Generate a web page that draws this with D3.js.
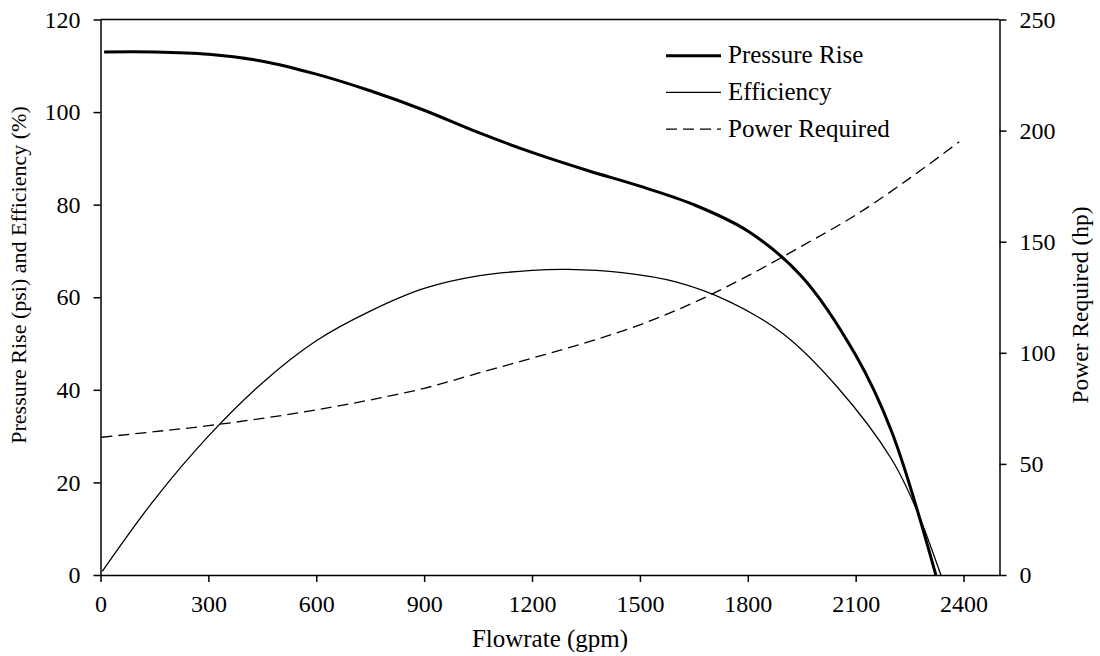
<!DOCTYPE html>
<head>
  <meta charset="utf-8">
  <script src="https://d3js.org/d3.v7.min.js"></script>
  <style>
    body { margin:0; background:#fff; }
    svg text { font-family: "Liberation Serif", "DejaVu Serif", "Times New Roman", Times, serif; fill:#000; }
    .axis path, .axis line { stroke:#000; stroke-width:1.5; }
    .axis text { font-size:24px; }
  </style>
</head>
<body>
<script>

/* Data */
/* ==== */

var seriesNames = ["Pressure Rise", "Efficiency", "Power Required"];

// flowrate (gpm) -> pressure rise (psi)
var pressureFlow = [10, 150, 300, 450, 600, 750, 900, 1050, 1200, 1350, 1500, 1650, 1800, 1950, 2100, 2200, 2323];
var pressureVals = [113.0, 113.0, 112.5, 111.0, 108.2, 104.6, 100.4, 95.6, 91.3, 87.5, 84.0, 80.0, 74.3, 64.5, 47.5, 31.0, 0];

// flowrate (gpm) -> efficiency (%)
var effFlow = [5, 150, 300, 450, 600, 750, 900, 1050, 1200, 1300, 1450, 1600, 1750, 1900, 2050, 2200, 2270, 2337];
var effVals = [0.8, 16.3, 30.0, 41.5, 50.6, 57.0, 61.9, 64.6, 65.8, 66.0, 65.3, 63.3, 59.0, 52.0, 40.5, 25.0, 14.0, 0];

// flowrate (gpm) -> power required (hp)
var powerFlow = [3, 150, 300, 450, 600, 750, 900, 1050, 1200, 1350, 1500, 1650, 1800, 1950, 2100, 2250, 2388];
var powerVals = [62.0, 64.5, 67.2, 70.5, 74.3, 78.8, 84.0, 90.8, 97.6, 104.6, 112.6, 122.6, 134.6, 148.0, 162.0, 178.5, 195.0];

var xTicks = [0, 300, 600, 900, 1200, 1500, 1800, 2100, 2400];
var yLeftTicks = [0, 20, 40, 60, 80, 100, 120];
var yRightTicks = [0, 50, 100, 150, 200, 250];


/* Set up */
/* ====== */

var width = 1100,
    height = 656,
    margin = { top: 19.5, right: 100.5, bottom: 81, left: 100.5 };

var svg = d3.select('body')
  .append('svg')
    .attr('width', width)
    .attr('height', height)
    .attr('font-family', '"Liberation Serif", "DejaVu Serif", serif');

var x = d3.scaleLinear()
    .domain([0, 2500])
    .range([margin.left, width - margin.right]);

var yLeft = d3.scaleLinear()
    .domain([0, 120])
    .range([height - margin.bottom, margin.top]);

var yRight = d3.scaleLinear()
    .domain([0, 250])
    .range([height - margin.bottom, margin.top]);

function zip(a, b) {
  return a.map(function(d, i) { return [d, b[i]]; });
}


// frame top line
svg.append('line')
    .attr('x1', x(0)).attr('x2', x(2500))
    .attr('y1', yLeft(120)).attr('y2', yLeft(120))
    .attr('stroke', '#000')
    .attr('stroke-width', 1.5);


// Axes

var fmt = d3.format('d');

svg.append('g')
    .attr('class', 'axis')
    .attr('transform', 'translate(0,' + yLeft(0) + ')')
    .call(d3.axisBottom(x).tickValues(xTicks).tickFormat(fmt).tickSize(7).tickPadding(13).tickSizeOuter(0));

svg.append('g')
    .attr('class', 'axis')
    .attr('transform', 'translate(' + x(0) + ',0)')
    .call(d3.axisLeft(yLeft).tickValues(yLeftTicks).tickFormat(fmt).tickSize(7).tickPadding(13).tickSizeOuter(0));

svg.append('g')
    .attr('class', 'axis')
    .attr('transform', 'translate(' + x(2500) + ',0)')
    .call(d3.axisRight(yRight).tickValues(yRightTicks).tickFormat(fmt).tickSize(7).tickPadding(13).tickSizeOuter(0));

svg.selectAll('.axis .domain').attr('stroke-width', 2);
svg.selectAll('.axis text').attr('font-family', null);


// Axis titles

svg.append('text')
    .attr('x', (x(0) + x(2500)) / 2)
    .attr('y', 647)
    .attr('text-anchor', 'middle')
    .style('font-size', '25px')
    .text('Flowrate (gpm)');

svg.append('text')
    .attr('transform', 'translate(26,275) rotate(-90)')
    .attr('text-anchor', 'middle')
    .style('font-size', '22px')
    .text('Pressure Rise (psi) and Efficiency (%)');

svg.append('text')
    .attr('transform', 'translate(1088,305) rotate(-90)')
    .attr('text-anchor', 'middle')
    .style('font-size', '23.5px')
    .text('Power Required (hp)');


// Curves

var lineLeft = d3.line()
    .x(function(d) { return x(d[0]); })
    .y(function(d) { return yLeft(d[1]); })
    .curve(d3.curveCatmullRom.alpha(0.5));

var lineRight = d3.line()
    .x(function(d) { return x(d[0]); })
    .y(function(d) { return yRight(d[1]); })
    .curve(d3.curveCatmullRom.alpha(0.5));

svg.append('path')
    .datum(zip(effFlow, effVals))
    .attr('d', lineLeft)
    .attr('fill', 'none')
    .attr('stroke', '#000')
    .attr('stroke-width', 1.3);

svg.append('path')
    .datum(zip(powerFlow, powerVals))
    .attr('d', lineRight)
    .attr('fill', 'none')
    .attr('stroke', '#000')
    .attr('stroke-width', 1.3)
    .attr('stroke-dasharray', '11,6');

svg.append('path')
    .datum(zip(pressureFlow, pressureVals))
    .attr('d', lineLeft)
    .attr('fill', 'none')
    .attr('stroke', '#000')
    .attr('stroke-width', 3);


// Legend

var legendStyles = [
  { w: 3, dash: null },
  { w: 1.3, dash: null },
  { w: 1.3, dash: '11,6' }
];

var legend = svg.append('g')
    .attr('transform', 'translate(666,55.7)');

var item = legend.selectAll('g')
    .data(seriesNames)
    .enter()
  .append('g')
    .attr('transform', function(d, i) { return 'translate(0,' + i * 36.7 + ')'; });

item.append('line')
    .attr('x1', 0).attr('x2', 55)
    .attr('stroke', '#000')
    .attr('stroke-width', function(d, i) { return legendStyles[i].w; })
    .attr('stroke-dasharray', function(d, i) { return legendStyles[i].dash; });

item.append('text')
    .attr('x', 62)
    .attr('dy', '0.3em')
    .style('font-size', '25px')
    .text(function(d) { return d; });

</script>
</body>
